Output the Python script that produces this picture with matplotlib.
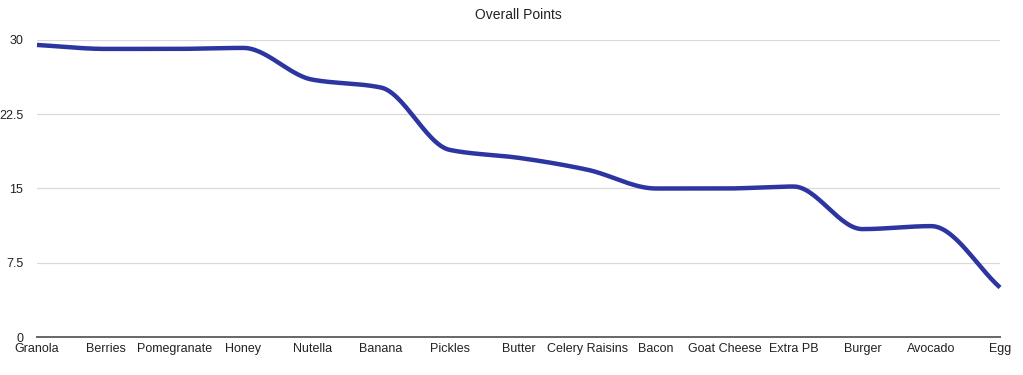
import matplotlib.pyplot as plt
import numpy as np

plt.rcParams['font.family'] = ['Liberation Sans', 'DejaVu Sans']

foods = ["Granola", "Berries", "Pomegranate", "Honey", "Nutella", "Banana", "Pickles",
         "Butter", "Celery Raisins", "Bacon", "Goat Cheese", "Extra PB", "Burger",
         "Avocado", "Egg"]
points = [29.5, 29.1, 29.1, 29.2, 26.0, 25.2, 18.9, 18.1, 16.9, 15.0, 15.0, 15.2,
          10.9, 11.2, 5.0]
y_ticks = [0, 7.5, 15, 22.5, 30]
y_labels = ["0", "7.5", "15", "22.5", "30"]


def smooth(x, y, n=30):
    # monotone cubic hermite (fritsch-carlson) through the points
    x = np.asarray(x, float)
    y = np.asarray(y, float)
    d = np.diff(y) / np.diff(x)
    m = np.zeros_like(y)
    m[0], m[-1] = d[0], d[-1]
    for i in range(1, len(y) - 1):
        if d[i - 1] * d[i] > 0:
            m[i] = 2 / (1 / d[i - 1] + 1 / d[i])
    xs, ys = [], []
    for i in range(len(x) - 1):
        h = x[i + 1] - x[i]
        t = np.linspace(0, 1, n, endpoint=False)
        h00 = 2 * t**3 - 3 * t**2 + 1
        h10 = t**3 - 2 * t**2 + t
        h01 = -2 * t**3 + 3 * t**2
        h11 = t**3 - t**2
        xs.append(x[i] + t * h)
        ys.append(h00 * y[i] + h10 * h * m[i] + h01 * y[i + 1] + h11 * h * m[i + 1])
    xs.append([x[-1]])
    ys.append([y[-1]])
    return np.concatenate(xs), np.concatenate(ys)


xpos = np.arange(len(foods))
sx, sy = smooth(xpos, points)

fig = plt.figure(figsize=(10.23, 3.75), dpi=100)
ax = fig.add_axes([37 / 1023, 1 - 337 / 375, 963 / 1023, 297 / 375])
ax.plot(sx, sy, color="#2c35a0", lw=3.2, solid_capstyle="butt", clip_on=False, zorder=3)

ax.set_xlim(0, len(foods) - 1)
ax.set_ylim(0, 30)
ax.set_yticks(y_ticks)
ax.set_yticklabels(y_labels)
ax.set_xticks(xpos)
ax.set_xticklabels(foods)
ax.tick_params(axis="both", length=0, labelsize=9, colors="#222222")
ax.tick_params(axis="y", pad=10)
ax.tick_params(axis="x", pad=4)
ax.grid(axis="y", color="#d9d9d9", lw=0.9)
ax.set_axisbelow(True)
for s in ["top", "right", "left"]:
    ax.spines[s].set_visible(False)
ax.spines["bottom"].set_color("#666666")
ax.spines["bottom"].set_linewidth(1.4)
ax.set_title("Overall Points", fontsize=10, pad=15, color="#222222")

plt.savefig("out.png", dpi=100)
